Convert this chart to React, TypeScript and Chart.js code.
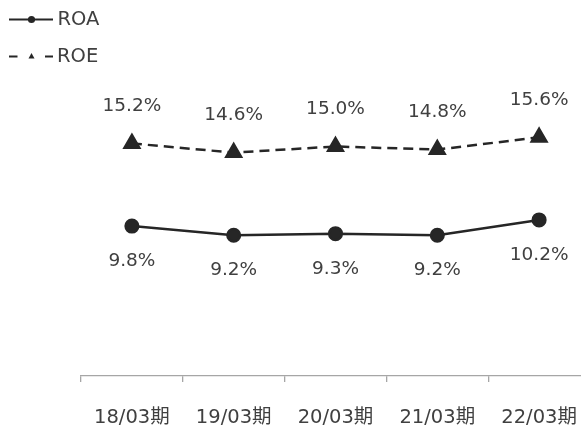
import React, { useEffect, useRef } from "react";
import { Chart, registerables } from "chart.js";

Chart.register(...registerables);

const categories = ["18/03期", "19/03期", "20/03期", "21/03期", "22/03期"];
const roaValues = [9.8, 9.2, 9.3, 9.2, 10.2];
const roeValues = [15.2, 14.6, 15.0, 14.8, 15.6];
const seriesNames = ["ROA", "ROE"];

const DARK = "#262626";
const TEXT = "#404040";
const FONT = "'DejaVu Sans', 'Noto Sans CJK JP', sans-serif";

const labelPlugin = {
  id: "valueLabels",
  afterDatasetsDraw(chart: any) {
    const ctx = chart.ctx;
    ctx.save();
    ctx.font = `18.5px ${FONT}`;
    ctx.fillStyle = TEXT;
    ctx.textAlign = "center";
    ctx.textBaseline = "middle";
    chart.data.datasets.forEach((ds: any, di: number) => {
      const meta = chart.getDatasetMeta(di);
      meta.data.forEach((pt: any, i: number) => {
        const v = ds.data[i] as number;
        const off = di === 0 ? 35 : -37;
        ctx.fillText(v.toFixed(1) + "%", pt.x, pt.y + off);
      });
    });
    ctx.restore();
  },
};

const legendPlugin = {
  id: "customLegend",
  afterDraw(chart: any) {
    const ctx = chart.ctx;
    ctx.save();
    ctx.strokeStyle = DARK;
    ctx.fillStyle = DARK;
    ctx.lineWidth = 2.2;
    // ROA
    let y = 19.5;
    ctx.beginPath();
    ctx.moveTo(9, y);
    ctx.lineTo(53, y);
    ctx.stroke();
    ctx.beginPath();
    ctx.arc(31.5, y, 3.6, 0, Math.PI * 2);
    ctx.fill();
    // ROE
    y = 56.5;
    ctx.beginPath();
    ctx.moveTo(9, y);
    ctx.lineTo(17.5, y);
    ctx.moveTo(45, y);
    ctx.lineTo(53, y);
    ctx.stroke();
    ctx.beginPath();
    ctx.moveTo(31.5, y - 3.5);
    ctx.lineTo(34.5, y + 2);
    ctx.lineTo(28.5, y + 2);
    ctx.closePath();
    ctx.fill();
    ctx.font = `19.5px ${FONT}`;
    ctx.fillStyle = TEXT;
    ctx.textAlign = "left";
    ctx.textBaseline = "middle";
    ctx.fillText(seriesNames[0], 57.5, 19.5);
    ctx.fillText(seriesNames[1], 57, 56.5);
    ctx.restore();
  },
};

export default function App() {
  const ref = useRef<HTMLCanvasElement | null>(null);
  useEffect(() => {
    if (!ref.current) return;
    const chart = new Chart(ref.current, {
      type: "line",
      data: {
        labels: categories,
        datasets: [
          {
            label: seriesNames[0],
            data: roaValues,
            borderColor: DARK,
            backgroundColor: DARK,
            borderWidth: 2.5,
            pointStyle: "circle",
            pointRadius: 6.3,
            pointBackgroundColor: DARK,
            pointBorderColor: DARK,
            tension: 0,
          },
          {
            label: seriesNames[1],
            data: roeValues,
            borderColor: DARK,
            backgroundColor: DARK,
            borderWidth: 2.5,
            borderDash: [10, 6],
            pointStyle: "triangle",
            pointRadius: 8.5,
            pointBackgroundColor: DARK,
            pointBorderColor: DARK,
            tension: 0,
          },
        ],
      },
      options: {
        responsive: true,
        maintainAspectRatio: false,
        animation: false,
        layout: { autoPadding: false, padding: { left: 81, top: 70, right: 0, bottom: 0 } },
        plugins: { legend: { display: false }, tooltip: { enabled: false } },
        scales: {
          x: {
            type: "category",
            offset: true,
            afterFit: (s: any) => {
              s.height = 51;
            },
            grid: {
              offset: true,
              drawOnChartArea: false,
              drawTicks: true,
              tickLength: 6,
              color: "#a6a6a6",
              lineWidth: 1.3,
            },
            border: { color: "#a6a6a6", width: 1.3 },
            ticks: {
              padding: 3,
              color: TEXT,
              font: { family: FONT, size: 19.5, lineHeight: "66px" },
              maxRotation: 0,
            },
          },
          y: {
            display: false,
            min: 0,
            max: 20,
          },
        },
      },
      plugins: [labelPlugin, legendPlugin],
    });
    return () => chart.destroy();
  }, []);
  return (
    <div
      style={{
        position: "fixed",
        left: 0,
        top: 0,
        width: 581,
        height: 427,
        overflow: "hidden",
        background: "#fff",
      }}
    >
      <div style={{ position: "relative", width: 590, height: 427 }}>
        <canvas ref={ref} />
      </div>
    </div>
  );
}
